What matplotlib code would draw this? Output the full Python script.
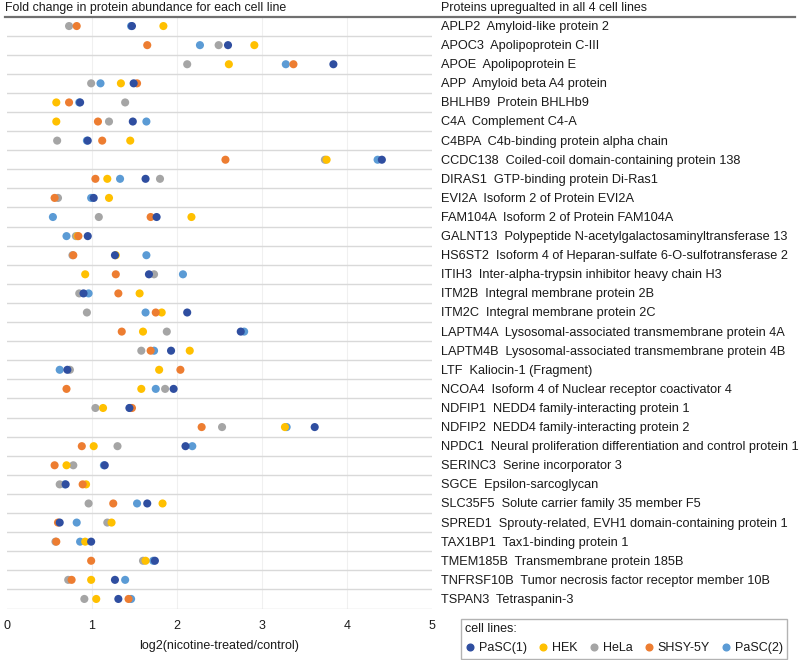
import matplotlib.pyplot as plt
from matplotlib.lines import Line2D
import matplotlib.transforms as mtransforms

plt.rcParams['font.family'] = ['Liberation Sans', 'DejaVu Sans']

proteins = ["APLP2", "APOC3", "APOE", "APP", "BHLHB9", "C4A", "C4BPA", "CCDC138",
            "DIRAS1", "EVI2A", "FAM104A", "GALNT13", "HS6ST2", "ITIH3", "ITM2B",
            "ITM2C", "LAPTM4A", "LAPTM4B", "LTF", "NCOA4", "NDFIP1", "NDFIP2",
            "NPDC1", "SERINC3", "SGCE", "SLC35F5", "SPRED1", "TAX1BP1", "TMEM185B",
            "TNFRSF10B", "TSPAN3"]
descriptions = ["Amyloid-like protein 2", "Apolipoprotein C-III", "Apolipoprotein E",
                "Amyloid beta A4 protein", "Protein BHLHb9", "Complement C4-A",
                "C4b-binding protein alpha chain", "Coiled-coil domain-containing protein 138",
                "GTP-binding protein Di-Ras1", "Isoform 2 of Protein EVI2A",
                "Isoform 2 of Protein FAM104A", "Polypeptide N-acetylgalactosaminyltransferase 13",
                "Isoform 4 of Heparan-sulfate 6-O-sulfotransferase 2",
                "Inter-alpha-trypsin inhibitor heavy chain H3", "Integral membrane protein 2B",
                "Integral membrane protein 2C", "Lysosomal-associated transmembrane protein 4A",
                "Lysosomal-associated transmembrane protein 4B", "Kaliocin-1 (Fragment)",
                "Isoform 4 of Nuclear receptor coactivator 4", "NEDD4 family-interacting protein 1",
                "NEDD4 family-interacting protein 2",
                "Neural proliferation differentiation and control protein 1",
                "Serine incorporator 3", "Epsilon-sarcoglycan",
                "Solute carrier family 35 member F5",
                "Sprouty-related, EVH1 domain-containing protein 1", "Tax1-binding protein 1",
                "Transmembrane protein 185B", "Tumor necrosis factor receptor member 10B",
                "Tetraspanin-3"]

# log2(nicotine-treated/control) per cell line, same order as proteins
pasc1 = [1.47, 2.60, 3.84, 1.49, 0.86, 1.48, 0.95, 4.41, 1.63, 1.02, 1.76, 0.95, 1.27, 1.67,
         0.90, 2.12, 2.75, 1.93, 0.71, 1.96, 1.44, 3.62, 2.10, 1.15, 0.69, 1.65, 0.62, 0.99,
         1.74, 1.27, 1.31]
hek = [1.84, 2.91, 2.61, 1.34, 0.58, 0.58, 1.45, 3.76, 1.18, 1.20, 2.17, 0.83, 1.28, 0.92,
       1.56, 1.82, 1.60, 2.15, 1.79, 1.58, 1.13, 3.27, 1.02, 0.70, 0.93, 1.83, 1.23, 0.92,
       1.63, 0.99, 1.05]
hela = [0.73, 2.49, 2.12, 0.99, 1.39, 1.20, 0.59, 3.74, 1.80, 0.60, 1.08, 0.81, 0.77, 1.73,
        0.85, 0.94, 1.88, 1.58, 0.74, 1.86, 1.04, 2.53, 1.30, 0.78, 0.62, 0.96, 1.18, 0.57,
        1.60, 0.72, 0.91]
shsy = [0.82, 1.65, 3.37, 1.53, 0.73, 1.07, 1.12, 2.57, 1.04, 0.56, 1.69, 0.84, 0.78, 1.28,
        1.31, 1.75, 1.35, 1.69, 2.04, 0.70, 1.47, 2.29, 0.88, 0.56, 0.89, 1.25, 0.60, 0.58,
        0.99, 0.76, 1.43]
pasc2 = [1.46, 2.27, 3.28, 1.10, 0.85, 1.64, 0.94, 4.36, 1.33, 0.99, 0.54, 0.70, 1.64, 2.07,
         0.96, 1.63, 2.79, 1.73, 0.62, 1.75, 1.45, 3.29, 2.18, 1.14, 0.68, 1.53, 0.82, 0.86,
         1.72, 1.39, 1.46]

series = {
    "PaSC(1)": (pasc1, "#2f4ea0"),
    "HEK": (hek, "#ffc000"),
    "HeLa": (hela, "#a5a5a5"),
    "SHSY-5Y": (shsy, "#ed7d31"),
    "PaSC(2)": (pasc2, "#5b9bd5"),
}
draw_order = ["PaSC(2)", "HeLa", "HEK", "SHSY-5Y", "PaSC(1)"]
txt_col = '#1a1a1a'

W, H = 800, 660
fig = plt.figure(figsize=(W / 100, H / 100), dpi=100)
ax = fig.add_axes([7 / W, 1 - 608.5 / H, 425 / W, 592 / H])

rows = list(range(len(proteins)))
for i, name in enumerate(draw_order):
    vals, col = series[name]
    ax.scatter(vals, rows, s=34, color=col, edgecolors='none', zorder=3 + i)

ax.set_xlim(0, 5)
ax.set_ylim(len(proteins) - 0.5, -0.5)
for x in range(1, 5):
    ax.axvline(x, color='#f0f0f0', lw=0.8, zorder=1)
for k in range(len(proteins)):
    ax.axhline(k + 0.5, color='#d9d9d9', lw=1.0, zorder=2)

for s in ax.spines.values():
    s.set_visible(False)
ax.set_yticks([])
ax.set_xticks(range(6))
ax.tick_params(axis='x', length=0, labelsize=9, pad=8, colors=txt_col)
ax.set_xlabel("log2(nicotine-treated/control)", fontsize=9, labelpad=6, color=txt_col)

# top rule across the whole figure
fig.add_artist(Line2D([5 / W, 795 / W], [1 - 17 / H, 1 - 17 / H], color='#707070', lw=1.6,
                      transform=fig.transFigure))

fig.text(5 / W, 1 - 8 / H, "Fold change in protein abundance for each cell line",
         fontsize=8.9, va='center', ha='left', color=txt_col)
fig.text(441 / W, 1 - 8 / H, "Proteins upregualted in all 4 cell lines",
         fontsize=8.9, va='center', ha='left', color=txt_col)

trans = mtransforms.blended_transform_factory(fig.transFigure, ax.transData)
for r, (p, d) in enumerate(zip(proteins, descriptions)):
    ax.text(441 / W, r + 0.05, f"{p}  {d}", transform=trans, fontsize=9.2, va='center',
            ha='left', color=txt_col, clip_on=False)

handles = [Line2D([], [], marker='o', linestyle='none', markersize=4.8, color=series[n][1],
                  label=n) for n in ["PaSC(1)", "HEK", "HeLa", "SHSY-5Y", "PaSC(2)"]]
leg = fig.legend(handles=handles, title="cell lines:", ncol=5, loc='upper left',
                 bbox_to_anchor=(461 / W, 1 - 619 / H), fontsize=9, title_fontsize=9,
                 frameon=True, fancybox=False, handlelength=0.8, handletextpad=0.3,
                 columnspacing=0.9, borderpad=0.35, labelspacing=0.55, alignment='left',
                 borderaxespad=0, labelcolor=txt_col)
leg.get_title().set_color(txt_col)
leg.get_frame().set_edgecolor('#a0a0a0')
leg.get_frame().set_linewidth(1.0)

fig.savefig("out.png", dpi=100)
